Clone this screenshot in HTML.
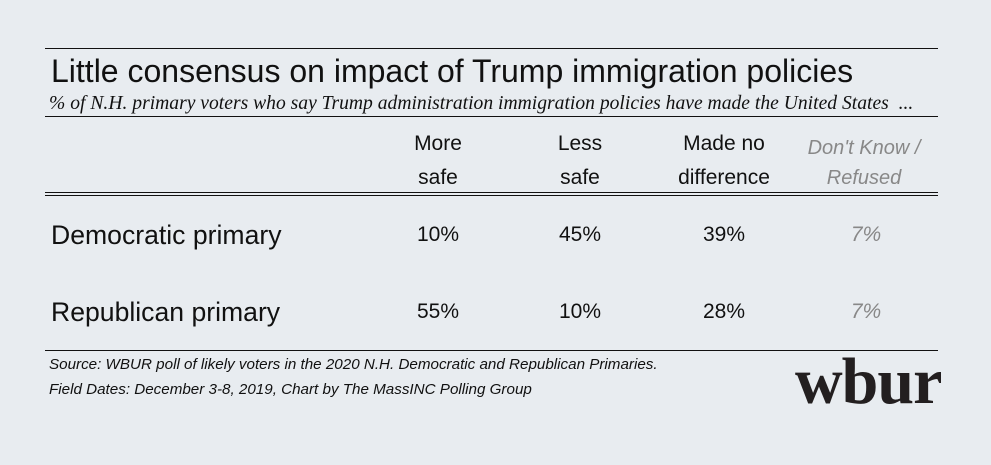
<!DOCTYPE html>
<html><head><style>
body{margin:0;width:991px;height:465px;background:#e8ecf0;position:relative;overflow:hidden;font-family:"Liberation Sans",sans-serif;color:#111}
.a{position:absolute;white-space:nowrap}
.ln{position:absolute;left:45px;width:893px;height:1px;background:#111}
.c{position:absolute;width:160px;text-align:center;font-size:21px}
.g{color:#888;font-style:italic}
</style></head><body>
<div class="ln" style="top:48px"></div>
<div class="a" style="left:51px;top:53px;font-size:32px">Little consensus on impact of Trump immigration policies</div>
<div class="a" style="left:49px;top:93px;font-size:19.6px;font-style:italic;font-family:'Liberation Serif',serif">% of N.H. primary voters who say Trump administration immigration policies have made the United States &nbsp;...</div>
<div class="ln" style="top:116px"></div>
<div class="c" style="left:358px;top:127px;line-height:34px">More<br>safe</div>
<div class="c" style="left:500px;top:127px;line-height:34px">Less<br>safe</div>
<div class="c" style="left:644px;top:127px;line-height:34px">Made no<br>difference</div>
<div class="c g" style="left:784px;top:133px;line-height:30px;font-size:20px">Don't Know /<br>Refused</div>
<div class="ln" style="top:192px"></div>
<div class="ln" style="top:195px"></div>
<div class="a" style="left:51px;top:220px;font-size:26.6px">Democratic primary</div>
<div class="c" style="left:358px;top:223px">10%</div>
<div class="c" style="left:500px;top:223px">45%</div>
<div class="c" style="left:644px;top:223px">39%</div>
<div class="c g" style="left:786px;top:223px">7%</div>
<div class="a" style="left:51px;top:297px;font-size:26.6px">Republican primary</div>
<div class="c" style="left:358px;top:300px">55%</div>
<div class="c" style="left:500px;top:300px">10%</div>
<div class="c" style="left:644px;top:300px">28%</div>
<div class="c g" style="left:786px;top:300px">7%</div>
<div class="ln" style="top:350px"></div>
<div class="a" style="left:49px;top:356px;font-size:15.2px;font-style:italic">Source: WBUR poll of likely voters in the 2020 N.H. Democratic and Republican Primaries.</div>
<div class="a" style="left:49px;top:381px;font-size:15.2px;font-style:italic">Field Dates: December 3-8, 2019, Chart by The MassINC Polling Group</div>
<div class="a" style="left:795px;top:344px;font-size:66px;font-weight:bold;font-family:'Liberation Serif',serif;color:#231f20;letter-spacing:-1px">wbur</div>
</body></html>
